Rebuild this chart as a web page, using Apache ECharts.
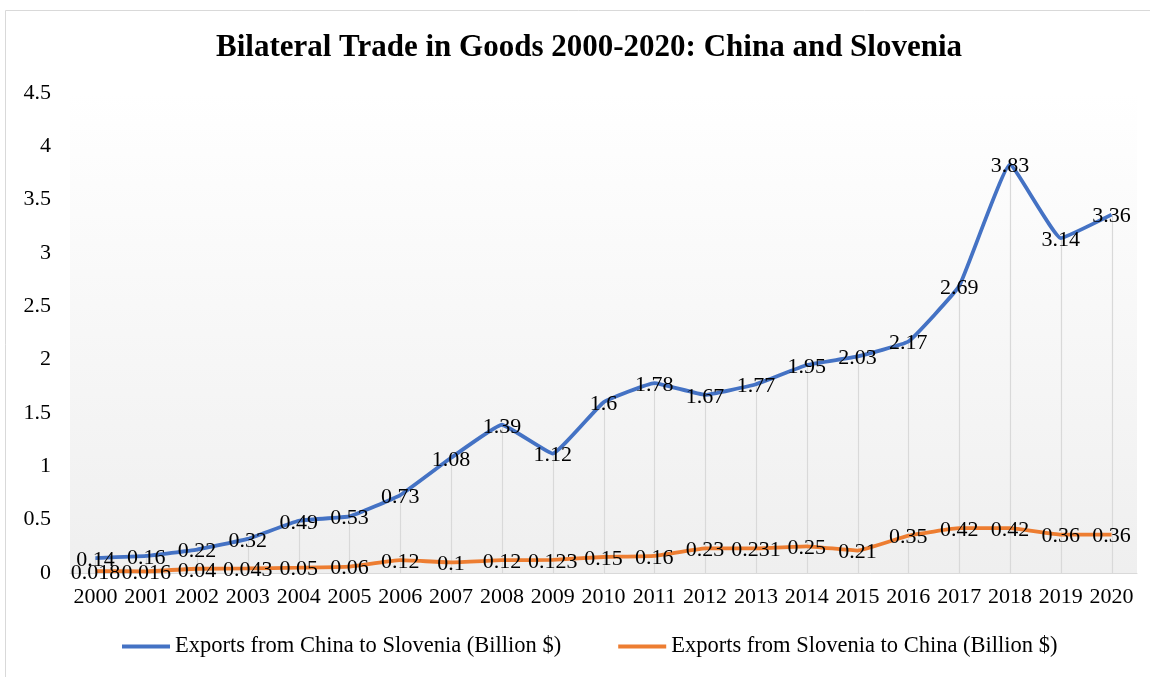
<!DOCTYPE html>
<html>
<head>
<meta charset="utf-8">
<script src="https://cdn.jsdelivr.net/npm/echarts@6/dist/echarts.min.js"></script>
<style>
  html, body { margin: 0; padding: 0; background: #ffffff; }
  #chart { width: 1150px; height: 677px; }
</style>
</head>
<body>
<div id="chart"></div>
<script>
// Bilateral trade in goods, China and Slovenia, billions of US dollars
const years = ['2000','2001','2002','2003','2004','2005','2006','2007','2008','2009','2010',
               '2011','2012','2013','2014','2015','2016','2017','2018','2019','2020'];
const chinaToSlovenia = [0.14, 0.16, 0.22, 0.32, 0.49, 0.53, 0.73, 1.08, 1.39, 1.12, 1.6,
                         1.78, 1.67, 1.77, 1.95, 2.03, 2.17, 2.69, 3.83, 3.14, 3.36];
const sloveniaToChina = [0.018, 0.016, 0.04, 0.043, 0.05, 0.06, 0.12, 0.1, 0.12, 0.123, 0.15,
                         0.16, 0.23, 0.231, 0.25, 0.21, 0.35, 0.42, 0.42, 0.36, 0.36];
const yTicks = ['0', '0.5', '1', '1.5', '2', '2.5', '3', '3.5', '4', '4.5'];

const serif = '"Liberation Serif", "Times New Roman", serif';
const BLUE = '#4472c4';
const ORANGE = '#ed7d31';
const NAME_CN = 'Exports from China to Slovenia (Billion $)';
const NAME_SI = 'Exports from Slovenia to China (Billion $)';

const chart = echarts.init(document.getElementById('chart'), null, { renderer: 'canvas' });

// value labels sit centred on each point
const labelStyle = {
  show: true,
  position: 'inside',
  offset: [0, 2],
  fontFamily: serif,
  fontSize: 22,
  color: '#000000',
  formatter: p => String(p.value)
};

chart.setOption({
  animation: false,
  backgroundColor: '#ffffff',
  graphic: [{
    type: 'rect',
    shape: { x: 5.5, y: 10.5, width: 1200, height: 700 },
    style: { fill: null, stroke: '#d9d9d9', lineWidth: 1 },
    z: -10
  }],
  title: {
    text: 'Bilateral Trade in Goods 2000-2020: China and Slovenia',
    left: 211,
    top: 27,
    textStyle: { fontFamily: serif, fontWeight: 'bold', fontSize: 31, color: '#000000' }
  },
  legend: {
    bottom: 14,
    left: 117,
    itemGap: 57,
    itemWidth: 48,
    itemHeight: 4,
    icon: 'rect',
    data: [
      { name: NAME_CN, itemStyle: { color: BLUE, opacity: 1 } },
      { name: NAME_SI, itemStyle: { color: ORANGE, opacity: 1 } }
    ],
    textStyle: { fontFamily: serif, fontSize: 22.5, color: '#000000' }
  },
  grid: {
    left: 70, right: 13, top: 93, bottom: 104,
    show: true,
    borderWidth: 0,
    backgroundColor: new echarts.graphic.LinearGradient(0, 0, 0, 1, [
      { offset: 0, color: '#ffffff' },
      { offset: 1, color: '#efefef' }
    ])
  },
  xAxis: {
    type: 'category',
    data: years,
    boundaryGap: true,
    axisLine: { show: true, lineStyle: { color: '#d9d9d9', width: 1 } },
    axisTick: { show: false },
    axisLabel: { fontFamily: serif, fontSize: 22, color: '#000000', margin: 13, interval: 0 },
    splitLine: { show: false }
  },
  yAxis: {
    type: 'value',
    min: 0, max: 4.5, interval: 0.5,
    axisLine: { show: false },
    axisTick: { show: false },
    splitLine: { show: false },
    axisLabel: {
      fontFamily: serif, fontSize: 22, color: '#000000', margin: 19,
      formatter: v => yTicks[Math.round(v / 0.5)]
    }
  },
  series: [
    {
      // drop lines from each China export point down to the category axis
      type: 'custom',
      silent: true,
      z: 1,
      data: chinaToSlovenia.map((v, i) => [i, v]),
      renderItem: (params, api) => {
        const top = api.coord([api.value(0), api.value(1)]);
        const base = api.coord([api.value(0), 0]);
        return {
          type: 'line',
          shape: { x1: Math.round(top[0]) + 0.5, y1: top[1], x2: Math.round(base[0]) + 0.5, y2: base[1] },
          style: { stroke: '#d9d9d9', lineWidth: 1.2 }
        };
      },
      encode: { x: 0, y: 1 },
      tooltip: { show: false }
    },
    {
      name: NAME_CN,
      type: 'line',
      data: chinaToSlovenia,
      smooth: 0.1,
      symbol: 'circle',
      symbolSize: 1,
      showSymbol: true,
      itemStyle: { color: 'rgba(0,0,0,0)', borderWidth: 0 },
      lineStyle: { color: BLUE, width: 3.8 },
      label: labelStyle,
      z: 3
    },
    {
      name: NAME_SI,
      type: 'line',
      data: sloveniaToChina,
      smooth: 0.1,
      symbol: 'circle',
      symbolSize: 1,
      showSymbol: true,
      itemStyle: { color: 'rgba(0,0,0,0)', borderWidth: 0 },
      lineStyle: { color: ORANGE, width: 3.8 },
      label: labelStyle,
      z: 3
    }
  ]
});
</script>
</body>
</html>
